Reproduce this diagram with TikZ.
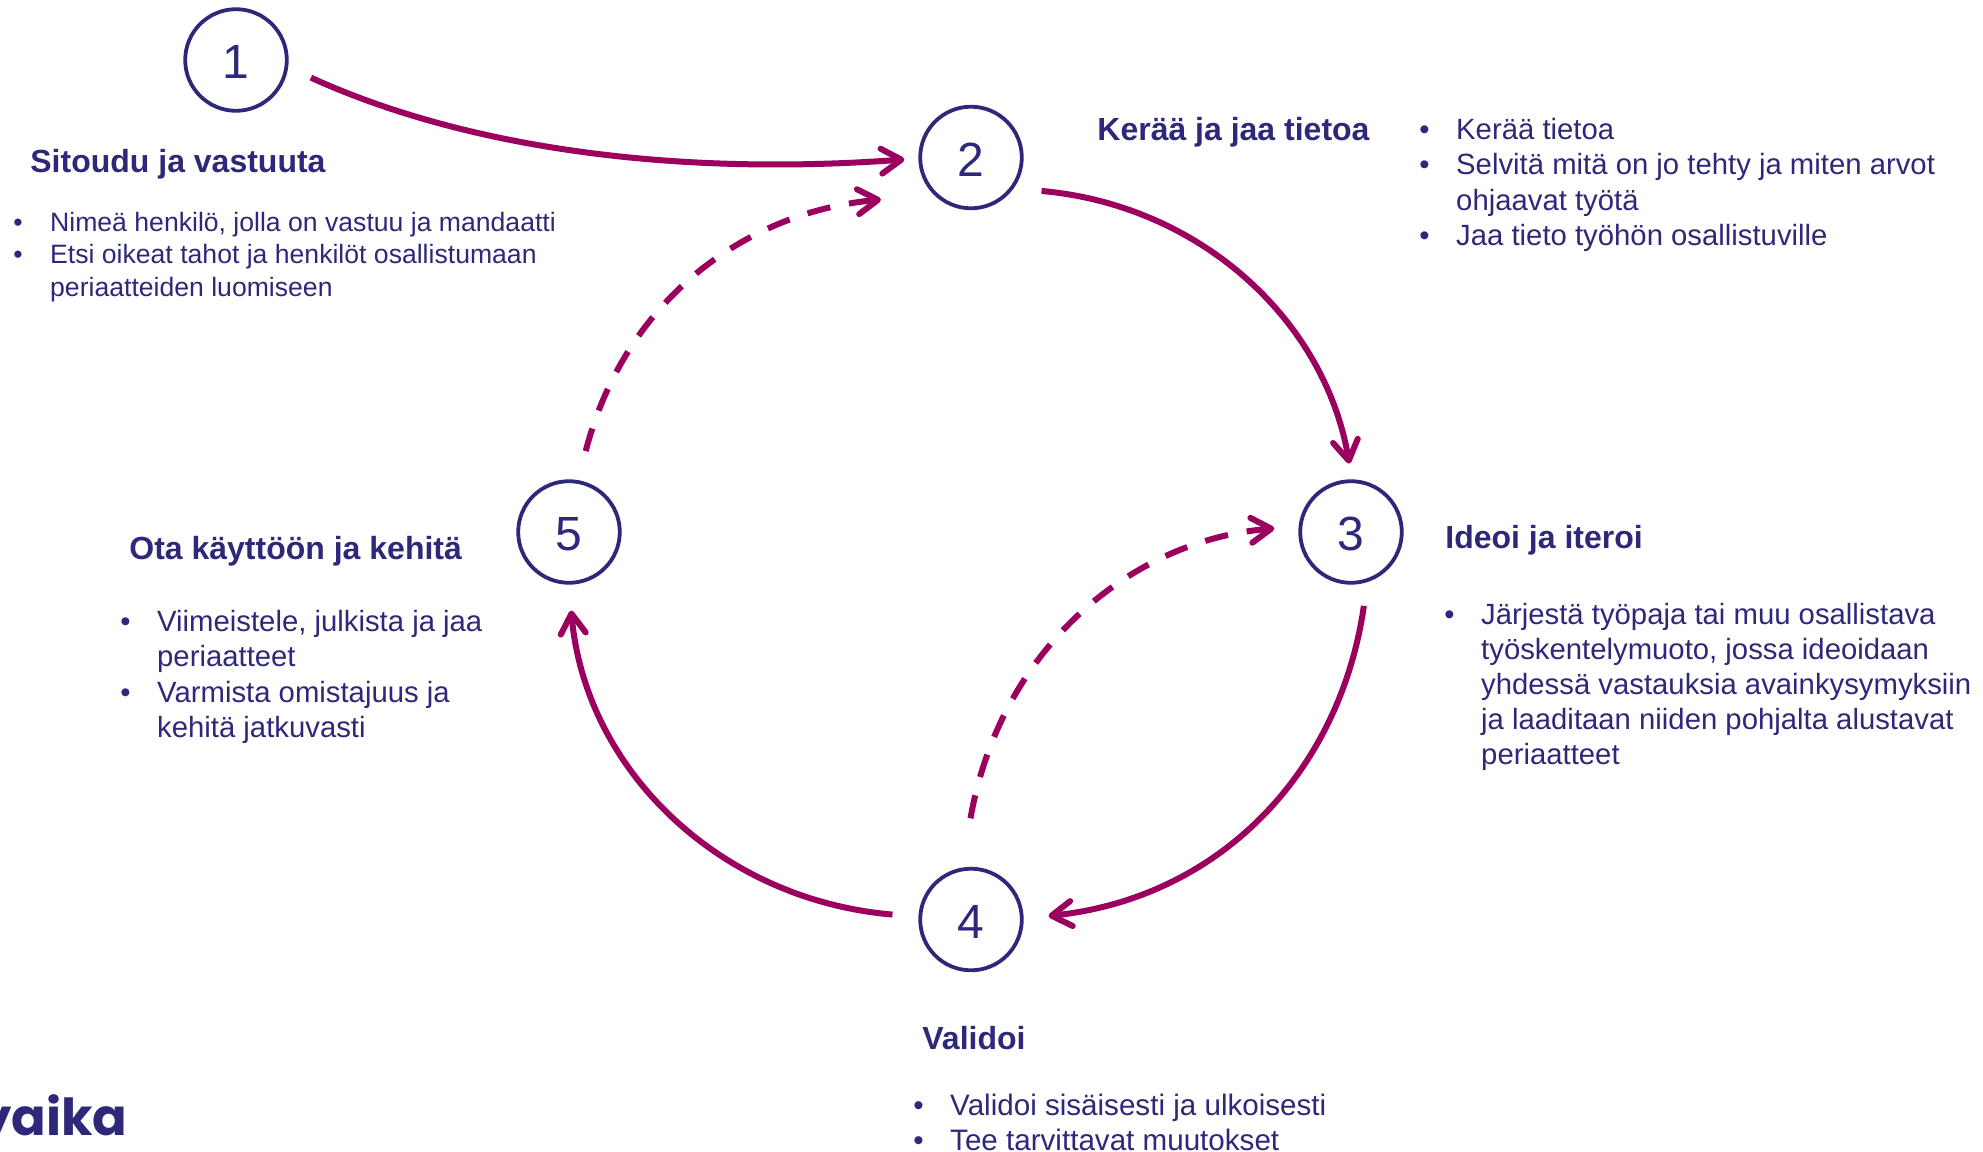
\documentclass[tikz,border=0pt]{standalone}
\usepackage{fontspec}
\setmainfont{Liberation Sans}
\newfontfamily\logofont{Poppins}[BoldFont={Poppins Bold}]
\usetikzlibrary{arrows.meta}
\definecolor{navy}{HTML}{2D2879}
\definecolor{berry}{HTML}{9B005E}
\newcommand{\fl}{\rule{0pt}{12pt}}
\newcommand{\bi}[1]{\fl\makebox[18.4pt][l]{\textbullet}#1}
\newcommand{\cn}[1]{\fl\hspace*{18.4pt}#1}
\newcommand{\dg}[1]{\raisebox{-1pt}[\height][0pt]{#1}}
\tikzset{
  x=0.5pt,y=-0.5pt,
  stepnum/.style={circle,draw=navy,line width=1.9pt,minimum size=50.8pt,inner sep=0pt,text=navy,font=\fontsize{24}{28}\selectfont},
  head/.style={anchor=base west,inner sep=0pt,text=navy,font=\fontsize{16}{19}\selectfont\bfseries},
  bodyl/.style={anchor=north west,inner sep=0pt,align=left,text=navy,font=\fontsize{13.3}{16.25}\selectfont},
  bodyr/.style={anchor=north west,inner sep=0pt,align=left,text=navy,font=\fontsize{14.65}{17.65}\selectfont},
  bodyi/.style={bodyr,font=\fontsize{14.65}{17.5}\selectfont},
  bodyv/.style={bodyr,font=\fontsize{14.8}{17.65}\selectfont},
  flow/.style={draw=berry,line width=3pt,-{Straight Barb[length=10pt,width=12.5pt,line width=3pt,round]}},
  flowd/.style={flow,dash pattern=on 11.75pt off 9.5pt}
}
\begin{document}
\begin{tikzpicture}
\useasboundingbox (0,0) rectangle (1983,1152);
\node[stepnum] (n1) at (236,60) {\dg{1}};
\node[stepnum] (n2) at (971,157.5) {\dg{2}};
\node[stepnum] (n3) at (1351,532) {\dg{3}};
\node[stepnum] (n4) at (971,919.5) {\dg{4}};
\node[stepnum] (n5) at (569,532) {\dg{5}};

\draw[flow,shorten <=12.5pt,shorten >=7pt] (n1.-8) .. controls (470,150) and (680,176) .. (n2.181);
\draw[flow,shorten <=14pt,shorten >=8pt] (n2.-36) .. controls (1200,205) and (1325,320) .. (n3.89);
\draw[flow,shorten <=12pt,shorten >=12.5pt] (n3.-72) .. controls (1340,772) and (1220,898) .. (n4.1);
\draw[flow,shorten <=13pt,shorten >=13pt] (n4.177) .. controls (720,900) and (585,770) .. (n5.-90);
\draw[flowd,shorten <=15pt,shorten >=26.5pt] (n5.80) .. controls (625,300) and (745,212) .. (n2.225);
\draw[flowd,shorten <=25pt,shorten >=12.2pt] (n4.100) .. controls (1000,650) and (1130,540) .. (n3.174);

\node[head] (h1) at (30,172) {Sitoudu ja vastuuta};
\node[bodyl] (b1) at (13,207) {\bi{Nimeä henkilö, jolla on vastuu ja mandaatti}\\\bi{Etsi oikeat tahot ja henkilöt osallistumaan}\\\cn{periaatteiden luomiseen}};
\node[head] (h2) at (1097,140) {Kerää ja jaa tietoa};
\node[bodyr] (b2) at (1419,115) {\bi{Kerää tietoa}\\\bi{Selvitä mitä on jo tehty ja miten arvot}\\\cn{ohjaavat työtä}\\\bi{Jaa tieto työhön osallistuville}};
\node[head] (h3) at (1445,548) {Ideoi ja iteroi};
\node[bodyi] (b3) at (1444,600) {\bi{Järjestä työpaja tai muu osallistava}\\\cn{työskentelymuoto, jossa ideoidaan}\\\cn{yhdessä vastauksia avainkysymyksiin}\\\cn{ja laaditaan niiden pohjalta alustavat}\\\cn{periaatteet}};
\node[head] (h5) at (129,559) {Ota käyttöön ja kehitä};
\node[bodyr] (b5) at (120,607) {\bi{Viimeistele, julkista ja jaa}\\\cn{periaatteet}\\\bi{Varmista omistajuus ja}\\\cn{kehitä jatkuvasti}};
\node[head] (h4) at (922,1049) {Validoi};
\node[bodyv] (b4) at (913,1091) {\bi{Validoi sisäisesti ja ulkoisesti}\\\bi{Tee tarvittavat muutokset}};
\node[anchor=base east,inner sep=0pt,text=navy,font=\logofont\bfseries\fontsize{25.5}{30}\selectfont] (logo) at (128,1135) {yaika};
\end{tikzpicture}
\end{document}
